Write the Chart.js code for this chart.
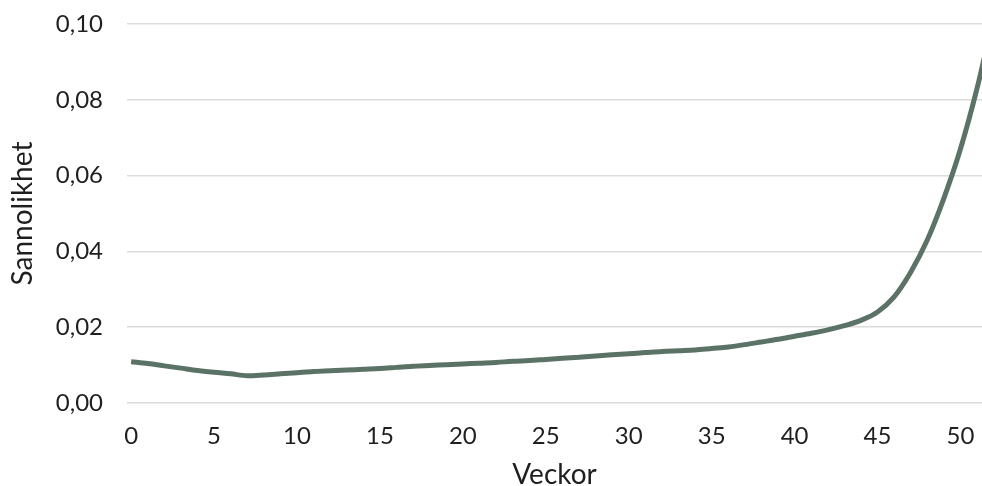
<!DOCTYPE html>
<html>
<head>
<meta charset="utf-8">
<script src="https://cdn.jsdelivr.net/npm/chart.js@4"></script>
<style>
  html, body { margin: 0; padding: 0; background: #ffffff; }
  #wrap { width: 982px; height: 486px; }
</style>
</head>
<body>
<div id="wrap"><canvas id="chart" width="982" height="486"></canvas></div>
<script>
// weeks (x) and probability per week (y)
const weeks = [0, 1, 2, 3, 4, 5, 6, 7, 8, 9, 10, 11, 12, 13, 14, 15, 16, 17, 18, 19, 20,
  21, 22, 23, 24, 25, 26, 27, 28, 29, 30, 31, 32, 33, 34, 35, 36, 37, 38, 39, 40,
  41, 42, 43, 44, 45, 46, 47, 48, 49, 50, 51, 52];
const probability = [0.0109, 0.0104, 0.0098, 0.0092, 0.0086, 0.0081, 0.0077, 0.0072, 0.0074, 0.0077, 0.0080,
  0.0083, 0.0085, 0.0087, 0.0089, 0.0091, 0.0094, 0.0097, 0.0099, 0.0101, 0.0103,
  0.0105, 0.0107, 0.0110, 0.0112, 0.0115, 0.0118, 0.0121, 0.0124, 0.0127, 0.0130,
  0.0133, 0.0136, 0.0138, 0.0140, 0.0144, 0.0148, 0.0154, 0.0161, 0.0168, 0.0176,
  0.0184, 0.0193, 0.0204, 0.0218, 0.0240, 0.0280, 0.0345, 0.0430, 0.0540, 0.0670, 0.0830, 0.1020];
const xTicks = [0, 5, 10, 15, 20, 25, 30, 35, 40, 45, 50];
const yTicks = [0, 0.02, 0.04, 0.06, 0.08, 0.10];

const points = weeks.map((w, i) => ({ x: w, y: probability[i] }));

Chart.defaults.font.family = "Lato, 'Open Sans', sans-serif";
Chart.defaults.color = '#1f1f1f';

var chart = new Chart(document.getElementById('chart'), {
  type: 'line',
  data: {
    datasets: [
      {
        label: 'Sannolikhet',
        data: points,
        borderColor: '#5b7267',
        borderWidth: 5,
        pointRadius: 0,
        cubicInterpolationMode: 'monotone',
        fill: false
      }
    ]
  },
  options: {
    responsive: false,
    animation: false,
    layout: { padding: { top: 24, right: 0, bottom: 0, left: 0 } },
    plugins: {
      legend: { display: false },
      tooltip: { enabled: false }
    },
    scales: {
      x: {
        type: 'linear',
        min: -0.25,
        max: 51.3,
        afterBuildTicks: (scale) => { scale.ticks = xTicks.map(v => ({ value: v })); },
        afterFit: (scale) => {
          scale.height = 83;
          scale.paddingLeft = 0;
          scale.paddingRight = 0;
        },
        grid: { display: false, drawTicks: false },
        border: { display: false },
        ticks: { padding: 19, font: { size: 24 }, maxRotation: 0 },
        title: { display: true, text: 'Veckor', font: { size: 28, lineHeight: 1 }, padding: { top: 0, bottom: -3 } }
      },
      y: {
        min: 0,
        max: 0.1,
        afterBuildTicks: (scale) => { scale.ticks = yTicks.map(v => ({ value: v })); },
        afterFit: (scale) => {
          scale.width = 127;
          scale.paddingTop = 0;
          scale.paddingBottom = 0;
        },
        grid: { color: '#dcdcdc', lineWidth: 1.5, drawTicks: false },
        border: { display: false },
        ticks: {
          padding: 24,
          font: { size: 24 },
          callback: (v) => v.toFixed(2).replace('.', ',')
        },
        title: { display: true, text: 'Sannolikhet', font: { size: 28, lineHeight: 1 }, padding: { top: 9, bottom: 0 } }
      }
    }
  }
});
</script>
</body>
</html>
